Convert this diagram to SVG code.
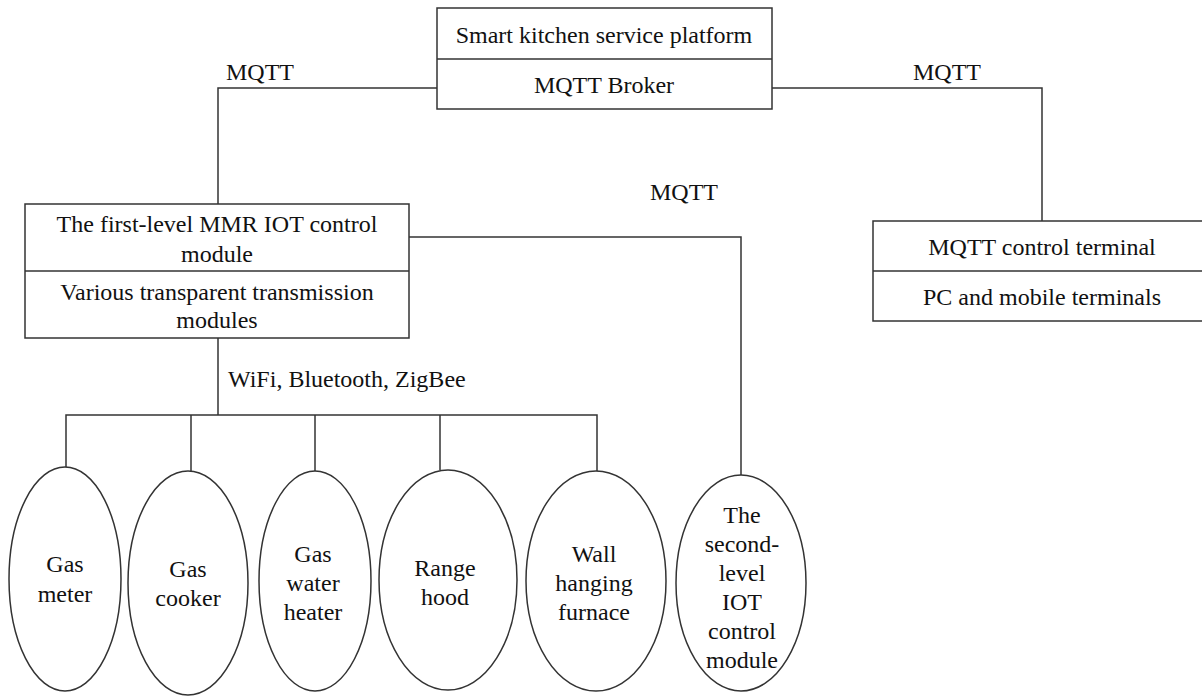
<svg xmlns="http://www.w3.org/2000/svg" width="1202" height="697" viewBox="0 0 1202 697">
  <style>
    svg g text, svg text, text { font-family: 'Liberation Serif' !important; font-size: 24px; fill: #111111; }
    .c { text-anchor: middle; }
    .shape { fill: #ffffff; stroke: #333333; stroke-width: 1.5; }
    .wire { fill: none; stroke: #333333; stroke-width: 1.5; }
  </style>
  <rect width="1202" height="697" fill="#ffffff"/>

  <g id="connectors">
    <polyline class="wire" points="437,88 218,88 218,204"/>
    <polyline class="wire" points="772,88 1042,88 1042,221"/>
    <polyline class="wire" points="409,237 741,237 741,475"/>
    <line class="wire" x1="218" y1="338" x2="218" y2="415"/>
    <polyline class="wire" points="66,468 66,415 597,415 597,471"/>
    <line class="wire" x1="191" y1="415" x2="191" y2="471"/>
    <line class="wire" x1="315" y1="415" x2="315" y2="471"/>
    <line class="wire" x1="440" y1="415" x2="440" y2="470"/>
  </g>

  <!-- protocol labels on the links -->
  <text font-family="Liberation Serif" font-size="24" x="226" y="80">MQTT</text>
  <text font-family="Liberation Serif" font-size="24" x="913" y="80">MQTT</text>
  <text font-family="Liberation Serif" font-size="24" x="650" y="200">MQTT</text>
  <text font-family="Liberation Serif" font-size="24" x="228" y="387">WiFi, Bluetooth, ZigBee</text>

  <g id="platform">
    <rect class="shape" x="437" y="8" width="335" height="101"/>
    <line class="wire" x1="437" y1="59" x2="772" y2="59"/>
    <text class="c" font-family="Liberation Serif" font-size="24" x="604" y="43">Smart kitchen service platform</text>
    <text class="c" font-family="Liberation Serif" font-size="24" x="604" y="93">MQTT Broker</text>
  </g>

  <g id="first-level">
    <rect class="shape" x="25" y="204" width="384" height="134"/>
    <line class="wire" x1="25" y1="271" x2="409" y2="271"/>
    <text class="c" font-family="Liberation Serif" font-size="24" x="217" y="232">The first-level MMR IOT control</text>
    <text class="c" font-family="Liberation Serif" font-size="24" x="217" y="262">module</text>
    <text class="c" font-family="Liberation Serif" font-size="24" x="217" y="300">Various transparent transmission</text>
    <text class="c" font-family="Liberation Serif" font-size="24" x="217" y="328">modules</text>
  </g>

  <g id="terminal">
    <rect class="shape" x="873" y="221" width="340" height="100"/>
    <line class="wire" x1="873" y1="271" x2="1213" y2="271"/>
    <text class="c" font-family="Liberation Serif" font-size="24" x="1042" y="255">MQTT control terminal</text>
    <text class="c" font-family="Liberation Serif" font-size="24" x="1042" y="305">PC and mobile terminals</text>
  </g>

  <g id="gas-meter">
    <ellipse class="shape" cx="65" cy="579" rx="56" ry="112"/>
    <text class="c" font-family="Liberation Serif" font-size="24" x="65" y="572">Gas</text>
    <text class="c" font-family="Liberation Serif" font-size="24" x="65" y="602">meter</text>
  </g>

  <g id="gas-cooker">
    <ellipse class="shape" cx="188" cy="583" rx="60" ry="112"/>
    <text class="c" font-family="Liberation Serif" font-size="24" x="188" y="577">Gas</text>
    <text class="c" font-family="Liberation Serif" font-size="24" x="188" y="606">cooker</text>
  </g>

  <g id="water-heater">
    <ellipse class="shape" cx="315" cy="581" rx="56" ry="110"/>
    <text class="c" font-family="Liberation Serif" font-size="24" x="313" y="562">Gas</text>
    <text class="c" font-family="Liberation Serif" font-size="24" x="313" y="591">water</text>
    <text class="c" font-family="Liberation Serif" font-size="24" x="313" y="620">heater</text>
  </g>

  <g id="range-hood">
    <ellipse class="shape" cx="448" cy="580" rx="69" ry="110"/>
    <text class="c" font-family="Liberation Serif" font-size="24" x="445" y="576">Range</text>
    <text class="c" font-family="Liberation Serif" font-size="24" x="445" y="605">hood</text>
  </g>

  <g id="furnace">
    <ellipse class="shape" cx="596" cy="581" rx="70" ry="110"/>
    <text class="c" font-family="Liberation Serif" font-size="24" x="594" y="562">Wall</text>
    <text class="c" font-family="Liberation Serif" font-size="24" x="594" y="591">hanging</text>
    <text class="c" font-family="Liberation Serif" font-size="24" x="594" y="620">furnace</text>
  </g>

  <g id="second-level">
    <ellipse class="shape" cx="741" cy="583" rx="65" ry="108"/>
    <text class="c" font-family="Liberation Serif" font-size="24" x="742" y="523">The</text>
    <text class="c" font-family="Liberation Serif" font-size="24" x="742" y="552">second-</text>
    <text class="c" font-family="Liberation Serif" font-size="24" x="742" y="581">level</text>
    <text class="c" font-family="Liberation Serif" font-size="24" x="742" y="610">IOT</text>
    <text class="c" font-family="Liberation Serif" font-size="24" x="742" y="639">control</text>
    <text class="c" font-family="Liberation Serif" font-size="24" x="742" y="668">module</text>
  </g>
</svg>
